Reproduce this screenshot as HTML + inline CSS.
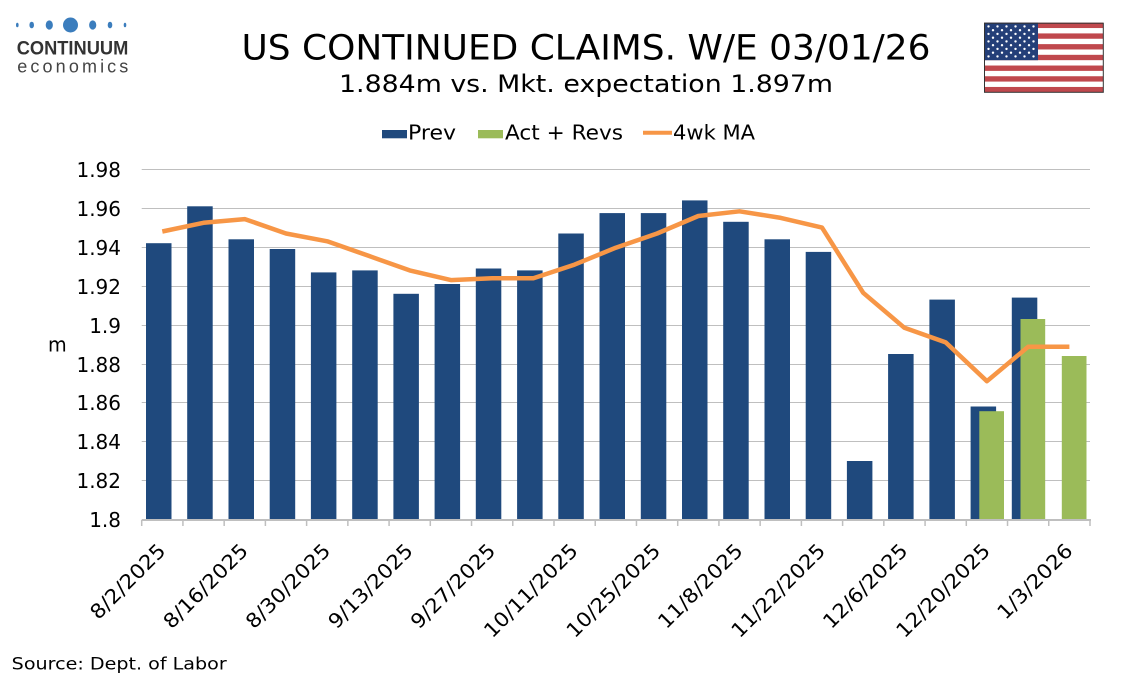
<!DOCTYPE html>
<html><head><meta charset="utf-8"><style>
html,body{margin:0;padding:0;background:#fff;}
svg{display:block;}
text{font-family:"DejaVu Sans","Liberation Sans",sans-serif;fill:#000;}
</style></head><body>
<svg width="1134" height="680" viewBox="0 0 1134 680" xmlns="http://www.w3.org/2000/svg">
<rect x="0" y="0" width="1134" height="680" fill="#fff"/>

<!-- Logo -->
<g fill="#3B7DBD">
<ellipse cx="17.3" cy="25" rx="1.3" ry="2.3"/>
<ellipse cx="31.7" cy="25" rx="2.3" ry="3.3"/>
<ellipse cx="49.3" cy="25" rx="3.6" ry="4.6"/>
<circle cx="70.5" cy="25" r="7.5"/>
<ellipse cx="92.7" cy="25" rx="3.6" ry="4.6"/>
<ellipse cx="110" cy="25" rx="2.3" ry="3.3"/>
<ellipse cx="125" cy="25" rx="1.3" ry="2.3"/>
</g>
<text x="16.7" y="54.5" font-family="Liberation Sans, sans-serif" font-weight="bold" font-size="19.5" textLength="111.6" lengthAdjust="spacingAndGlyphs" style="fill:#333;font-family:'Liberation Sans',sans-serif">CONTINUUM</text>
<text x="17.3" y="72.5" font-size="18" textLength="111" lengthAdjust="spacing" style="fill:#444;font-family:'Liberation Sans',sans-serif">economics</text>

<!-- Title -->
<text x="241.5" y="59.5" font-size="35" textLength="689" lengthAdjust="spacingAndGlyphs">US CONTINUED CLAIMS. W/E 03/01/26</text>
<text x="339" y="92" font-size="24" textLength="494" lengthAdjust="spacingAndGlyphs">1.884m vs. Mkt. expectation 1.897m</text>

<!-- Flag -->
<g>
<rect x="984" y="22.7" width="119.3" height="69.6" fill="#fff"/>
<g fill="#C0484D">
<rect x="984" y="22.7" width="119.3" height="5.35"/>
<rect x="984" y="33.41" width="119.3" height="5.35"/>
<rect x="984" y="44.12" width="119.3" height="5.35"/>
<rect x="984" y="54.82" width="119.3" height="5.35"/>
<rect x="984" y="65.53" width="119.3" height="5.35"/>
<rect x="984" y="76.24" width="119.3" height="5.35"/>
<rect x="984" y="86.95" width="119.3" height="5.35"/>
</g>
<rect x="984" y="22.7" width="54" height="37.5" fill="#243F78"/>
<g fill="#fff">
<circle cx="988.5" cy="26.4" r="1.2"/><circle cx="997.5" cy="26.4" r="1.2"/><circle cx="1006.5" cy="26.4" r="1.2"/><circle cx="1015.5" cy="26.4" r="1.2"/><circle cx="1024.5" cy="26.4" r="1.2"/><circle cx="1033.5" cy="26.4" r="1.2"/>
<circle cx="993" cy="30.2" r="1.2"/><circle cx="1002" cy="30.2" r="1.2"/><circle cx="1011" cy="30.2" r="1.2"/><circle cx="1020" cy="30.2" r="1.2"/><circle cx="1029" cy="30.2" r="1.2"/>
<circle cx="988.5" cy="33.9" r="1.2"/><circle cx="997.5" cy="33.9" r="1.2"/><circle cx="1006.5" cy="33.9" r="1.2"/><circle cx="1015.5" cy="33.9" r="1.2"/><circle cx="1024.5" cy="33.9" r="1.2"/><circle cx="1033.5" cy="33.9" r="1.2"/>
<circle cx="993" cy="37.7" r="1.2"/><circle cx="1002" cy="37.7" r="1.2"/><circle cx="1011" cy="37.7" r="1.2"/><circle cx="1020" cy="37.7" r="1.2"/><circle cx="1029" cy="37.7" r="1.2"/>
<circle cx="988.5" cy="41.4" r="1.2"/><circle cx="997.5" cy="41.4" r="1.2"/><circle cx="1006.5" cy="41.4" r="1.2"/><circle cx="1015.5" cy="41.4" r="1.2"/><circle cx="1024.5" cy="41.4" r="1.2"/><circle cx="1033.5" cy="41.4" r="1.2"/>
<circle cx="993" cy="45.2" r="1.2"/><circle cx="1002" cy="45.2" r="1.2"/><circle cx="1011" cy="45.2" r="1.2"/><circle cx="1020" cy="45.2" r="1.2"/><circle cx="1029" cy="45.2" r="1.2"/>
<circle cx="988.5" cy="48.9" r="1.2"/><circle cx="997.5" cy="48.9" r="1.2"/><circle cx="1006.5" cy="48.9" r="1.2"/><circle cx="1015.5" cy="48.9" r="1.2"/><circle cx="1024.5" cy="48.9" r="1.2"/><circle cx="1033.5" cy="48.9" r="1.2"/>
<circle cx="993" cy="52.7" r="1.2"/><circle cx="1002" cy="52.7" r="1.2"/><circle cx="1011" cy="52.7" r="1.2"/><circle cx="1020" cy="52.7" r="1.2"/><circle cx="1029" cy="52.7" r="1.2"/>
<circle cx="988.5" cy="56.4" r="1.2"/><circle cx="997.5" cy="56.4" r="1.2"/><circle cx="1006.5" cy="56.4" r="1.2"/><circle cx="1015.5" cy="56.4" r="1.2"/><circle cx="1024.5" cy="56.4" r="1.2"/><circle cx="1033.5" cy="56.4" r="1.2"/>
</g>
<rect x="984.5" y="23.2" width="118.8" height="69.1" fill="none" stroke="#333" stroke-width="1"/>
</g>

<!-- Legend -->
<rect x="382" y="130" width="25" height="8.3" fill="#1F497D"/>
<text x="408" y="139.3" font-size="20" textLength="48" lengthAdjust="spacingAndGlyphs">Prev</text>
<rect x="478" y="130" width="25" height="8.3" fill="#9BBB59"/>
<text x="505" y="139.3" font-size="20" textLength="118" lengthAdjust="spacingAndGlyphs">Act + Revs</text>
<line x1="643" y1="132.7" x2="672" y2="132.7" stroke="#F79646" stroke-width="4"/>
<text x="673" y="139.3" font-size="20" textLength="82" lengthAdjust="spacingAndGlyphs">4wk MA</text>

<!-- Gridlines -->
<g stroke="#BFBFBF" stroke-width="1">
<line x1="141.7" y1="169.5" x2="1090" y2="169.5"/>
<line x1="141.7" y1="208.5" x2="1090" y2="208.5"/>
<line x1="141.7" y1="247.5" x2="1090" y2="247.5"/>
<line x1="141.7" y1="286.5" x2="1090" y2="286.5"/>
<line x1="141.7" y1="325.5" x2="1090" y2="325.5"/>
<line x1="141.7" y1="364.5" x2="1090" y2="364.5"/>
<line x1="141.7" y1="402.5" x2="1090" y2="402.5"/>
<line x1="141.7" y1="441.5" x2="1090" y2="441.5"/>
<line x1="141.7" y1="480.5" x2="1090" y2="480.5"/>
</g>

<!-- Y labels -->
<g font-size="20" text-anchor="end">
<text x="121" y="177">1.98</text>
<text x="121" y="216">1.96</text>
<text x="121" y="255">1.94</text>
<text x="121" y="294">1.92</text>
<text x="121" y="333">1.9</text>
<text x="121" y="372">1.88</text>
<text x="121" y="410">1.86</text>
<text x="121" y="449">1.84</text>
<text x="121" y="488">1.82</text>
<text x="121" y="527">1.8</text>
</g>
<text x="48" y="351.7" font-size="20" textLength="18.7" lengthAdjust="spacingAndGlyphs">m</text>

<!-- Prev bars -->
<g fill="#1F497D">
<rect x="146.0" y="243.2" width="25.5" height="276.1"/>
<rect x="187.2" y="206.3" width="25.5" height="313.0"/>
<rect x="228.5" y="239.3" width="25.5" height="280.0"/>
<rect x="269.7" y="249.0" width="25.5" height="270.3"/>
<rect x="310.9" y="272.4" width="25.5" height="246.9"/>
<rect x="352.2" y="270.4" width="25.5" height="248.9"/>
<rect x="393.4" y="293.8" width="25.5" height="225.5"/>
<rect x="434.6" y="284.0" width="25.5" height="235.3"/>
<rect x="475.8" y="268.5" width="25.5" height="250.8"/>
<rect x="517.1" y="270.4" width="25.5" height="248.9"/>
<rect x="558.3" y="233.5" width="25.5" height="285.8"/>
<rect x="599.5" y="213.1" width="25.5" height="306.2"/>
<rect x="640.8" y="213.1" width="25.5" height="306.2"/>
<rect x="682.0" y="200.4" width="25.5" height="318.9"/>
<rect x="723.2" y="221.8" width="25.5" height="297.5"/>
<rect x="764.5" y="239.3" width="25.5" height="280.0"/>
<rect x="805.7" y="251.9" width="25.5" height="267.4"/>
<rect x="846.9" y="461.0" width="25.5" height="58.3"/>
<rect x="888.1" y="354.0" width="25.5" height="165.3"/>
<rect x="929.4" y="299.6" width="25.5" height="219.7"/>
<rect x="970.6" y="406.5" width="25.5" height="112.8"/>
<rect x="1011.8" y="297.6" width="25.5" height="221.7"/>
</g>
<!-- Green bars -->
<g fill="#9BBB59">
<rect x="979.3" y="411.2" width="24.7" height="108.1"/>
<rect x="1020.5" y="319.0" width="24.7" height="200.3"/>
<rect x="1061.8" y="356.0" width="24.7" height="163.3"/>
</g>

<!-- Axis -->
<g stroke="#BFBFBF" stroke-width="2">
<line x1="141.7" y1="520" x2="1091" y2="520"/>
</g>
<g stroke="#BFBFBF" stroke-width="1.5">
<line x1="141.7" y1="520" x2="141.7" y2="526"/><line x1="182.93" y1="520" x2="182.93" y2="526"/><line x1="224.16" y1="520" x2="224.16" y2="526"/><line x1="265.39" y1="520" x2="265.39" y2="526"/><line x1="306.62" y1="520" x2="306.62" y2="526"/><line x1="347.85" y1="520" x2="347.85" y2="526"/><line x1="389.08" y1="520" x2="389.08" y2="526"/><line x1="430.31" y1="520" x2="430.31" y2="526"/><line x1="471.54" y1="520" x2="471.54" y2="526"/><line x1="512.77" y1="520" x2="512.77" y2="526"/><line x1="554" y1="520" x2="554" y2="526"/><line x1="595.23" y1="520" x2="595.23" y2="526"/><line x1="636.46" y1="520" x2="636.46" y2="526"/><line x1="677.69" y1="520" x2="677.69" y2="526"/><line x1="718.92" y1="520" x2="718.92" y2="526"/><line x1="760.15" y1="520" x2="760.15" y2="526"/><line x1="801.38" y1="520" x2="801.38" y2="526"/><line x1="842.61" y1="520" x2="842.61" y2="526"/><line x1="883.84" y1="520" x2="883.84" y2="526"/><line x1="925.07" y1="520" x2="925.07" y2="526"/><line x1="966.3" y1="520" x2="966.3" y2="526"/><line x1="1007.53" y1="520" x2="1007.53" y2="526"/><line x1="1048.76" y1="520" x2="1048.76" y2="526"/><line x1="1090" y1="520" x2="1090" y2="526"/>
</g>

<!-- 4wk MA -->
<polyline fill="none" stroke="#F79646" stroke-width="4.5" stroke-linejoin="round" stroke-linecap="butt"
points="162.3,231.5 203.5,222.8 244.8,219.1 286.0,233.5 327.2,241.3 368.5,255.8 409.7,270.4 450.9,280.1 492.1,278.2 533.4,278.2 574.6,264.6 615.8,247.7 657.1,233.5 698.3,216.0 739.5,211.3 780.8,217.9 822.0,227.6 863.2,292.8 904.4,327.8 945.7,342.4 986.9,381.2 1028.1,346.8 1069.4,346.8"/>

<!-- X labels -->
<g font-size="20" text-anchor="end">
<text transform="translate(166.8,552) rotate(-45)" textLength="96.8" lengthAdjust="spacingAndGlyphs">8/2/2025</text>
<text transform="translate(249.3,552) rotate(-45)" textLength="109.9" lengthAdjust="spacingAndGlyphs">8/16/2025</text>
<text transform="translate(331.7,552) rotate(-45)" textLength="109.9" lengthAdjust="spacingAndGlyphs">8/30/2025</text>
<text transform="translate(414.2,552) rotate(-45)" textLength="109.9" lengthAdjust="spacingAndGlyphs">9/13/2025</text>
<text transform="translate(496.6,552) rotate(-45)" textLength="109.9" lengthAdjust="spacingAndGlyphs">9/27/2025</text>
<text transform="translate(579.1,552) rotate(-45)" textLength="122.9" lengthAdjust="spacingAndGlyphs">10/11/2025</text>
<text transform="translate(661.6,552) rotate(-45)" textLength="122.9" lengthAdjust="spacingAndGlyphs">10/25/2025</text>
<text transform="translate(744.0,552) rotate(-45)" textLength="109.9" lengthAdjust="spacingAndGlyphs">11/8/2025</text>
<text transform="translate(826.5,552) rotate(-45)" textLength="122.9" lengthAdjust="spacingAndGlyphs">11/22/2025</text>
<text transform="translate(908.9,552) rotate(-45)" textLength="109.9" lengthAdjust="spacingAndGlyphs">12/6/2025</text>
<text transform="translate(991.4,552) rotate(-45)" textLength="122.9" lengthAdjust="spacingAndGlyphs">12/20/2025</text>
<text transform="translate(1073.9,552) rotate(-45)" textLength="96.8" lengthAdjust="spacingAndGlyphs">1/3/2026</text>
</g>

<!-- Source -->
<text x="11.7" y="669.3" font-size="17" textLength="215" lengthAdjust="spacingAndGlyphs">Source: Dept. of Labor</text>
</svg>
</body></html>
